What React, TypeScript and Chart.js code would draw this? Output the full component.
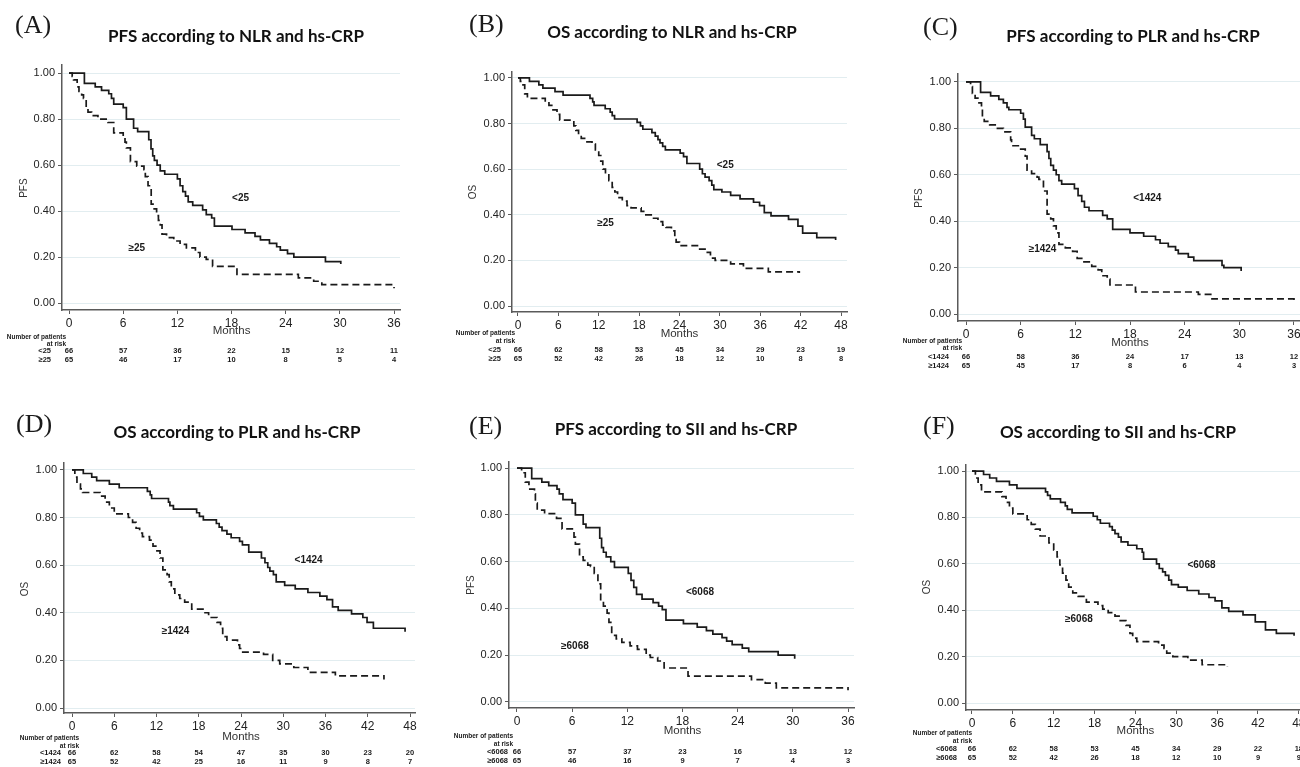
import React, { useEffect, useRef } from 'react';
import { Chart, registerables } from 'chart.js';

Chart.register(...registerables);

// ---------- tick values ----------
const X_TICKS_36 = [0, 6, 12, 18, 24, 30, 36];
const X_TICKS_48 = [0, 6, 12, 18, 24, 30, 36, 42, 48];
const Y_TICKS = [0, 0.2, 0.4, 0.6, 0.8, 1.0];

// ---------- (A) PFS by NLR and hs-CRP ----------
const A_LOW = [[0,1],[1.7,.955],[2.9,.94],[3.6,.925],[4.4,.91],[4.7,.89],[4.95,.865],[6.0,.85],[6.35,.80],[7.15,.76],[7.6,.745],[8.83,.71],[9.08,.67],[9.27,.64],[9.45,.62],[9.75,.60],[10.1,.575],[10.6,.56],[12.0,.54],[12.3,.51],[12.6,.485],[12.9,.465],[13.2,.44],[13.7,.425],[14.8,.405],[15.2,.385],[15.8,.37],[16.1,.335],[18.05,.32],[19.5,.305],[20.6,.29],[21.2,.275],[22.2,.26],[23.0,.245],[23.4,.23],[24.2,.215],[24.9,.20],[28.4,.18],[30.1,.17]];
const A_HIGH = [[0,1],[0.35,.985],[0.5,.97],[0.9,.94],[1.1,.92],[1.4,.905],[1.6,.89],[1.9,.85],[2.1,.83],[2.5,.815],[3.2,.80],[4.3,.785],[4.95,.74],[6.0,.72],[6.2,.70],[6.35,.675],[6.8,.615],[7.5,.595],[8.3,.58],[8.45,.55],[8.75,.51],[9.1,.43],[9.3,.41],[9.7,.38],[9.9,.36],[10.1,.34],[10.3,.30],[10.8,.285],[11.6,.27],[12.3,.255],[13.0,.24],[14.0,.22],[14.5,.20],[15.2,.19],[15.9,.16],[18.6,.125],[25.4,.11],[27.1,.095],[28.0,.08],[36.0,.065]];
const A_RISK_LOW = [66, 57, 36, 22, 15, 12, 11];
const A_RISK_HIGH = [65, 46, 17, 10, 8, 5, 4];

// ---------- (B) OS by NLR and hs-CRP ----------
const B_LOW = [[0,1],[1.7,.985],[3.1,.97],[3.7,.955],[5.5,.94],[6.7,.925],[10.7,.91],[11.1,.895],[11.3,.88],[12.96,.865],[13.7,.85],[14.0,.835],[14.35,.82],[17.7,.805],[18.2,.79],[18.55,.775],[19.9,.76],[20.4,.745],[20.8,.73],[21.1,.715],[21.5,.70],[21.9,.685],[24.1,.67],[24.6,.655],[25.1,.625],[27.0,.60],[27.4,.58],[27.8,.565],[28.4,.55],[28.8,.53],[29.1,.51],[30.3,.50],[31.6,.485],[33.0,.47],[35.0,.455],[35.9,.44],[36.6,.41],[37.6,.395],[40.2,.38],[41.6,.35],[42.3,.32],[44.4,.30],[47.2,.29]];
const B_HIGH = [[0,1],[0.35,.985],[0.6,.97],[1.0,.93],[1.4,.91],[4.05,.895],[4.6,.88],[5.2,.86],[5.8,.84],[6.2,.815],[8.3,.79],[8.6,.77],[9.0,.75],[9.4,.735],[9.9,.72],[11.0,.71],[11.5,.685],[12.0,.66],[12.3,.635],[12.6,.60],[13.0,.575],[13.5,.55],[14.0,.52],[14.4,.50],[14.8,.475],[15.5,.46],[16.2,.44],[16.8,.43],[18.3,.415],[19.0,.40],[19.8,.385],[20.8,.37],[21.5,.355],[22.0,.345],[22.8,.33],[23.3,.30],[23.5,.28],[24.0,.265],[27.0,.25],[28.0,.235],[28.6,.21],[29.3,.20],[31.6,.185],[33.5,.165],[37.2,.15],[41.8,.145]];
const B_RISK_LOW = [66, 62, 58, 53, 45, 34, 29, 23, 19];
const B_RISK_HIGH = [65, 52, 42, 26, 18, 12, 10, 8, 8];

// ---------- (C) PFS by PLR and hs-CRP ----------
const C_LOW = [[0,1],[1.6,.955],[2.7,.94],[3.6,.925],[4.1,.91],[4.5,.89],[4.7,.88],[6.0,.865],[6.3,.84],[6.5,.805],[7.2,.77],[7.5,.755],[8.15,.73],[8.9,.70],[9.1,.67],[9.3,.64],[9.6,.62],[9.9,.60],[10.2,.575],[10.5,.56],[11.9,.54],[12.3,.51],[12.7,.485],[13.0,.46],[13.5,.445],[15.0,.425],[15.5,.41],[16.1,.365],[18.0,.35],[19.5,.335],[20.8,.32],[21.3,.305],[22.2,.29],[23.0,.275],[23.3,.26],[24.4,.245],[25.0,.23],[28.1,.21],[28.3,.20],[30.2,.185]];
const C_HIGH = [[0,1],[0.5,.98],[0.7,.95],[1.0,.93],[1.3,.91],[1.7,.885],[1.8,.85],[2.0,.83],[2.6,.815],[3.3,.80],[4.1,.785],[4.9,.75],[5.0,.725],[6.0,.71],[6.5,.68],[6.7,.62],[7.2,.605],[7.8,.59],[8.0,.58],[8.5,.53],[8.9,.43],[9.3,.41],[9.6,.38],[9.9,.35],[10.2,.30],[10.9,.285],[11.7,.27],[12.2,.24],[12.8,.225],[13.8,.205],[14.5,.19],[14.9,.165],[15.5,.15],[15.8,.125],[18.6,.095],[25.5,.085],[27.0,.065],[36.0,.05]];
const C_RISK_LOW = [66, 58, 36, 24, 17, 13, 12];
const C_RISK_HIGH = [65, 45, 17, 8, 6, 4, 3];

// ---------- (D) OS by PLR and hs-CRP ----------
const D_LOW = [[0,1],[1.6,.985],[2.8,.97],[3.5,.955],[5.3,.94],[6.7,.925],[10.7,.91],[11.1,.895],[11.3,.88],[13.7,.865],[13.9,.85],[14.4,.835],[17.7,.82],[18.1,.805],[18.65,.79],[20.5,.775],[20.9,.76],[21.3,.745],[22.0,.73],[22.6,.715],[23.8,.70],[24.2,.685],[25.1,.655],[26.9,.63],[27.4,.61],[27.8,.59],[28.1,.575],[28.6,.56],[29.0,.53],[30.2,.515],[31.7,.50],[33.5,.485],[35.2,.47],[36.2,.455],[37.0,.425],[37.8,.41],[39.7,.395],[41.3,.38],[41.9,.36],[42.8,.335],[47.3,.32]];
const D_HIGH = [[0,1],[0.4,.97],[0.7,.94],[1.2,.92],[1.5,.905],[4.0,.89],[4.7,.865],[5.3,.84],[6.0,.815],[8.0,.80],[8.6,.78],[9.1,.755],[9.6,.735],[10.0,.72],[11.0,.705],[11.5,.68],[11.9,.66],[12.5,.63],[12.9,.58],[13.5,.56],[13.8,.53],[14.1,.50],[14.6,.475],[15.3,.46],[16.0,.445],[17.0,.415],[18.6,.40],[19.4,.38],[20.6,.36],[21.1,.335],[21.4,.30],[22.0,.285],[23.5,.265],[23.8,.25],[24.1,.235],[27.2,.225],[28.5,.20],[29.5,.185],[31.5,.17],[33.5,.15],[37.4,.135],[44.3,.12]];
const D_RISK_LOW = [66, 62, 58, 54, 47, 35, 30, 23, 20];
const D_RISK_HIGH = [65, 52, 42, 25, 16, 11, 9, 8, 7];

// ---------- (E) PFS by SII and hs-CRP ----------
const E_LOW = [[0,1],[1.6,.955],[2.7,.94],[3.45,.925],[4.35,.91],[4.6,.89],[5.0,.865],[6.0,.85],[6.35,.80],[7.2,.76],[7.5,.745],[9.0,.70],[9.2,.66],[9.4,.64],[9.7,.62],[10.2,.60],[10.6,.575],[12.1,.55],[12.4,.52],[12.7,.49],[13.0,.46],[13.6,.44],[14.8,.425],[15.4,.41],[15.8,.395],[16.2,.35],[18.1,.335],[19.6,.32],[20.6,.305],[21.3,.29],[22.3,.275],[22.8,.26],[23.4,.245],[24.5,.23],[25.2,.215],[28.4,.20],[30.2,.185]];
const E_HIGH = [[0,1],[0.5,.98],[0.9,.94],[1.3,.91],[1.9,.89],[2.0,.85],[2.2,.82],[3.0,.805],[4.3,.785],[4.9,.74],[6.2,.705],[6.35,.675],[6.8,.62],[7.2,.605],[7.7,.585],[8.0,.58],[8.4,.55],[8.8,.505],[9.1,.43],[9.4,.41],[9.8,.38],[10.0,.34],[10.3,.285],[10.8,.27],[11.4,.255],[12.3,.24],[13.1,.225],[14.05,.20],[14.5,.19],[15.3,.175],[16.0,.145],[18.6,.11],[25.5,.095],[27.0,.08],[28.2,.06],[36.0,.05]];
const E_RISK_LOW = [66, 57, 37, 23, 16, 13, 12];
const E_RISK_HIGH = [65, 46, 16, 9, 7, 4, 3];

// ---------- (F) OS by SII and hs-CRP ----------
const F_LOW = [[0,1],[1.7,.985],[2.6,.97],[3.6,.955],[5.5,.94],[6.6,.925],[10.8,.91],[11.1,.895],[11.5,.88],[13.0,.865],[13.7,.85],[14.0,.835],[14.7,.82],[17.8,.805],[18.4,.79],[18.85,.775],[20.2,.76],[20.6,.745],[21.0,.73],[21.5,.715],[21.9,.695],[22.9,.68],[24.2,.665],[25.0,.65],[25.2,.62],[27.1,.60],[27.5,.58],[28.0,.565],[28.4,.55],[28.9,.53],[29.3,.51],[30.3,.50],[31.6,.485],[33.3,.47],[34.8,.455],[35.7,.44],[36.7,.41],[37.7,.395],[39.8,.38],[41.6,.35],[43.1,.315],[44.7,.30],[47.3,.29]];
const F_HIGH = [[0,1],[0.5,.97],[0.9,.94],[1.4,.91],[4.4,.89],[5.0,.865],[5.5,.84],[6.0,.815],[8.1,.79],[8.7,.77],[9.3,.75],[10.0,.72],[11.3,.69],[12.0,.66],[12.5,.63],[12.9,.595],[13.3,.56],[13.8,.53],[14.2,.50],[14.8,.475],[15.6,.46],[16.8,.435],[18.5,.42],[19.2,.405],[20.0,.39],[21.0,.375],[21.6,.355],[22.6,.335],[23.2,.30],[23.6,.28],[24.2,.265],[27.4,.25],[28.2,.235],[28.6,.215],[29.5,.20],[31.7,.185],[33.8,.165],[37.5,.155]];
const F_RISK_LOW = [66, 62, 58, 53, 45, 34, 29, 22, 18];
const F_RISK_HIGH = [65, 52, 42, 26, 18, 12, 10, 9, 9];

// ---------- panel layout ----------
type Panel = any;
const PANELS: Panel[] = [
  {
    key: 'A', tag: '(A)', title: 'PFS according to NLR and hs-CRP', yLabel: 'PFS',
    low: A_LOW, high: A_HIGH, riskLow: A_RISK_LOW, riskHigh: A_RISK_HIGH,
    lowName: '<25', highName: '≥25', lowPos: [19.0, 0.454], highPos: [7.5, 0.238],
    xTicks: X_TICKS_36, xMin: -0.78, xMax: 36.66, yMin: -0.03, yMax: 1.035,
    left: 0, top: 0, w: 430, h: 380, pad: { left: 0, top: 65, right: 30, bottom: 40 }, yW: 62, xH: 30,
    tagX: 15, tagY: 26, titleX: 236, titleY: 37, yTitleX: 24, monthsY: 331,
    hdrRight: 66, numY: 337, atRiskY: 344, rowY: [351, 360], rowLabelRight: 51,
  },
  {
    key: 'B', tag: '(B)', title: 'OS according to NLR and hs-CRP', yLabel: 'OS',
    low: B_LOW, high: B_HIGH, riskLow: B_RISK_LOW, riskHigh: B_RISK_HIGH,
    lowName: '<25', highName: '≥25', lowPos: [30.8, 0.616], highPos: [13.0, 0.364],
    xTicks: X_TICKS_48, xMin: -0.89, xMax: 48.89, yMin: -0.026, yMax: 1.026,
    left: 430, top: 0, w: 440, h: 380, pad: { left: 0, top: 72, right: 23, bottom: 38 }, yW: 82, xH: 30,
    tagX: 39, tagY: 25, titleX: 242, titleY: 33, yTitleX: 43, monthsY: 334,
    hdrRight: 85, numY: 333, atRiskY: 341, rowY: [350, 359], rowLabelRight: 71,
  },
  {
    key: 'C', tag: '(C)', title: 'PFS according to PLR and hs-CRP', yLabel: 'PFS',
    low: C_LOW, high: C_HIGH, riskLow: C_RISK_LOW, riskHigh: C_RISK_HIGH,
    lowName: '<1424', highName: '≥1424', lowPos: [19.9, 0.497], highPos: [8.4, 0.28],
    xTicks: X_TICKS_36, xMin: -0.88, xMax: 36.66, yMin: -0.03, yMax: 1.034,
    left: 870, top: 0, w: 450, h: 380, pad: { left: 0, top: 74, right: 20, bottom: 29 }, yW: 88, xH: 30,
    tagX: 53, tagY: 28, titleX: 263, titleY: 37, yTitleX: 49, monthsY: 343,
    hdrRight: 92, numY: 341, atRiskY: 348, rowY: [357, 366], rowLabelRight: 79,
  },
  {
    key: 'D', tag: '(D)', title: 'OS according to PLR and hs-CRP', yLabel: 'OS',
    low: D_LOW, high: D_HIGH, riskLow: D_RISK_LOW, riskHigh: D_RISK_HIGH,
    lowName: '<1424', highName: '≥1424', lowPos: [33.6, 0.62], highPos: [14.7, 0.324],
    xTicks: X_TICKS_48, xMin: -1.14, xMax: 48.71, yMin: -0.021, yMax: 1.029,
    left: 0, top: 380, w: 430, h: 387, pad: { left: 0, top: 83, right: 15, bottom: 24 }, yW: 64, xH: 30,
    tagX: 16, tagY: 45, titleX: 237, titleY: 53, yTitleX: 25, monthsY: 357,
    hdrRight: 79, numY: 358, atRiskY: 366, rowY: [373, 382], rowLabelRight: 61,
  },
  {
    key: 'E', tag: '(E)', title: 'PFS according to SII and hs-CRP', yLabel: 'PFS',
    low: E_LOW, high: E_HIGH, riskLow: E_RISK_LOW, riskHigh: E_RISK_HIGH,
    lowName: '<6068', highName: '≥6068', lowPos: [19.9, 0.469], highPos: [6.3, 0.238],
    xTicks: X_TICKS_36, xMin: -0.87, xMax: 36.65, yMin: -0.026, yMax: 1.026,
    left: 430, top: 380, w: 440, h: 387, pad: { left: 0, top: 82, right: 16, bottom: 29 }, yW: 79, xH: 30,
    tagX: 39, tagY: 47, titleX: 246, titleY: 50, yTitleX: 41, monthsY: 351,
    hdrRight: 83, numY: 356, atRiskY: 364, rowY: [372, 381], rowLabelRight: 78,
  },
  {
    key: 'F', tag: '(F)', title: 'OS according to SII and hs-CRP', yLabel: 'OS',
    low: F_LOW, high: F_HIGH, riskLow: F_RISK_LOW, riskHigh: F_RISK_HIGH,
    lowName: '<6068', highName: '≥6068', lowPos: [33.7, 0.593], highPos: [15.7, 0.36],
    xTicks: X_TICKS_48, xMin: -0.88, xMax: 48.17, yMin: -0.03, yMax: 1.026,
    left: 870, top: 380, w: 450, h: 387, pad: { left: 0, top: 85, right: 20, bottom: 27 }, yW: 96, xH: 30,
    tagX: 53, tagY: 47, titleX: 248, titleY: 53, yTitleX: 57, monthsY: 351,
    hdrRight: 102, numY: 353, atRiskY: 361, rowY: [369, 378], rowLabelRight: 87,
  },
];

const SANS = '"Liberation Sans", Arial, sans-serif';
const INK = '#1a1a1a';
const AXIS = '#5a5a5a';
const GRID = '#e2edf0';

const toXY = (arr: number[][]) => arr.map(([x, y]) => ({ x, y }));

function makeTextPlugin(p: Panel) {
  return {
    id: 'kmText' + p.key,
    afterDraw(chart: any) {
      const ctx = chart.ctx;
      const xs = chart.scales.x;
      const ys = chart.scales.y;
      ctx.save();
      ctx.fillStyle = INK;
      ctx.textBaseline = 'middle';

      // panel tag
      ctx.textAlign = 'left';
      ctx.font = '26px "Liberation Serif", "Times New Roman", serif';
      ctx.fillText(p.tag, p.tagX, p.tagY);

      // title
      ctx.textAlign = 'center';
      ctx.fillStyle = '#111';
      ctx.font = 'bold 17px Lato, "Open Sans", sans-serif';
      ctx.fillText(p.title, p.titleX, p.titleY);

      // y axis title
      ctx.save();
      ctx.translate(p.yTitleX, (ys.getPixelForValue(0) + ys.getPixelForValue(1)) / 2);
      ctx.rotate(-Math.PI / 2);
      ctx.font = '10px ' + SANS;
      ctx.fillStyle = '#333';
      ctx.fillText(p.yLabel, 0, 0);
      ctx.restore();

      // x axis title
      ctx.font = '11.5px ' + SANS;
      ctx.fillStyle = '#333';
      const mid = p.xTicks[Math.floor(p.xTicks.length / 2)];
      ctx.fillText('Months', xs.getPixelForValue(mid), p.monthsY);

      // curve labels
      ctx.fillStyle = INK;
      ctx.font = 'bold 10px ' + SANS;
      ctx.fillText(p.lowName, xs.getPixelForValue(p.lowPos[0]), ys.getPixelForValue(p.lowPos[1]));
      ctx.fillText(p.highName, xs.getPixelForValue(p.highPos[0]), ys.getPixelForValue(p.highPos[1]));

      // number at risk
      ctx.font = 'bold 6.5px ' + SANS;
      ctx.textAlign = 'right';
      ctx.fillText('Number of patients', p.hdrRight, p.numY);
      ctx.fillText('at risk', p.hdrRight, p.atRiskY);
      ctx.font = 'bold 7.5px ' + SANS;
      const rows = [
        { name: p.lowName, vals: p.riskLow },
        { name: p.highName, vals: p.riskHigh },
      ];
      rows.forEach((r, i) => {
        ctx.textAlign = 'right';
        ctx.fillText(r.name, p.rowLabelRight, p.rowY[i]);
        ctx.textAlign = 'center';
        r.vals.forEach((v: number, j: number) => {
          ctx.fillText(String(v), xs.getPixelForValue(p.xTicks[j]), p.rowY[i]);
        });
      });
      ctx.restore();
    },
  };
}

function KMPanel({ p }: { p: Panel }) {
  const ref = useRef<HTMLCanvasElement>(null);
  useEffect(() => {
    if (!ref.current) return;
    const chart = new Chart(ref.current, {
      type: 'line',
      data: {
        datasets: [
          {
            data: toXY(p.low),
            borderColor: INK,
            borderWidth: 1.7,
            pointRadius: 0,
            stepped: 'before',
            fill: false,
          },
          {
            data: toXY(p.high),
            borderColor: INK,
            borderWidth: 1.7,
            borderDash: [7, 4],
            pointRadius: 0,
            stepped: 'before',
            fill: false,
          },
        ],
      },
      options: {
        responsive: false,
        animation: false,
        devicePixelRatio: 1,
        layout: { padding: p.pad },
        plugins: {
          legend: { display: false },
          tooltip: { enabled: false },
          title: { display: false },
        },
        scales: {
          x: {
            type: 'linear',
            min: p.xMin,
            max: p.xMax,
            afterBuildTicks: (s: any) => {
              s.ticks = p.xTicks.map((v: number) => ({ value: v }));
            },
            afterFit: (s: any) => {
              s.height = p.xH;
            },
            grid: { drawOnChartArea: false, drawTicks: true, tickLength: 4, tickColor: AXIS, tickWidth: 1 },
            border: { display: true, color: AXIS, width: 1.5 },
            ticks: {
              autoSkip: false,
              maxRotation: 0,
              padding: 2,
              color: '#222',
              font: { family: SANS, size: 12 },
              callback: (v: any) => String(v),
            },
          },
          y: {
            type: 'linear',
            min: p.yMin,
            max: p.yMax,
            afterBuildTicks: (s: any) => {
              s.ticks = Y_TICKS.map((v) => ({ value: v }));
            },
            afterFit: (s: any) => {
              s.width = p.yW;
            },
            grid: { color: GRID, lineWidth: 1, drawTicks: true, tickLength: 4, tickColor: AXIS, tickWidth: 1 },
            border: { display: true, color: AXIS, width: 1.5 },
            ticks: {
              autoSkip: false,
              padding: 3,
              color: '#222',
              font: { family: SANS, size: 11 },
              callback: (v: any) => Number(v).toFixed(2),
            },
          },
        },
      },
      plugins: [makeTextPlugin(p)],
    } as any);
    return () => chart.destroy();
  }, [p]);
  return (
    <canvas
      ref={ref}
      width={p.w}
      height={p.h}
      style={{ position: 'absolute', left: p.left, top: p.top, width: p.w, height: p.h }}
    />
  );
}

export default function App() {
  return (
    <div
      style={{
        position: 'fixed',
        left: 0,
        top: 0,
        width: 1300,
        height: 767,
        overflow: 'hidden',
        background: '#ffffff',
      }}
    >
      {PANELS.map((p) => (
        <KMPanel key={p.key} p={p} />
      ))}
    </div>
  );
}
